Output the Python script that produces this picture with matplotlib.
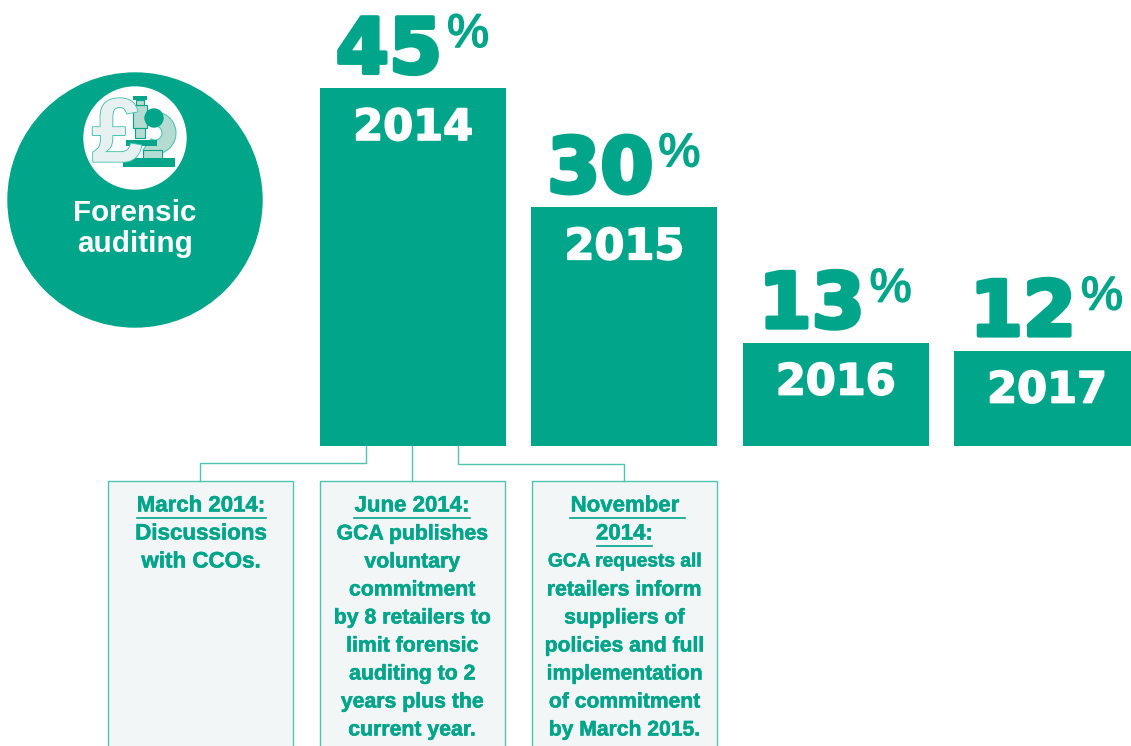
import matplotlib
matplotlib.use("Agg")
import matplotlib.pyplot as plt
import matplotlib.patheffects as pe
from matplotlib.patches import Circle, Rectangle, Wedge

# Data
years = ["2014", "2015", "2016", "2017"]
percent = [45, 30, 13, 12]
march_lines = ["Discussions", "with CCOs."]
june_lines = ["GCA publishes", "voluntary", "commitment", "by 8 retailers to", "limit forensic",
              "auditing to 2", "years plus the", "current year."]
nov_lines = ["GCA requests all", "retailers inform", "suppliers of", "policies and full",
             "implementation", "of commitment", "by March 2015."]

GREEN = "#00a58a"
LINE = "#4fc4af"
BOX = "#f2f6f7"
PALE = "#b5dcd2"
plt.rcParams["font.family"] = ["Liberation Sans", "DejaVu Sans"]
plt.rcParams["font.weight"] = "bold"

W, H = 1131, 746
fig = plt.figure(figsize=(W / 100, H / 100), dpi=100)

# Bars: 446px baseline, about 7.956 px per percentage point
base_px = 446
px_per_pct = 7.956
step = 211.3
x0 = 413
bar_ax = fig.add_axes([0, (H - base_px) / H, 1, base_px / H])
bar_ax.set_xlim(-x0 / step, (W - x0) / step)
bar_ax.set_ylim(0, base_px / px_per_pct)
bar_ax.axis("off")
pos = list(range(len(years)))
bar_ax.bar(pos, percent, width=186 / step, color=GREEN)

for i, (yr, val) in enumerate(zip(years, percent)):
    # year label inside the bar, near the top
    bar_ax.annotate(yr, (i, val), xytext=(0, -52), textcoords="offset pixels", ha="center",
                    va="baseline", fontsize=31, color="white", family="DejaVu Sans",
                    path_effects=[pe.withStroke(linewidth=1.2, foreground="white")])
    bar_ax.annotate(str(val), (i, val), xytext=(-24, 15), textcoords="offset pixels", ha="center",
                    va="baseline", fontsize=55, color=GREEN, family="DejaVu Sans",
                    path_effects=[pe.withStroke(linewidth=3, foreground=GREEN)])
    bar_ax.annotate("%", (i, val), xytext=(55, 41), textcoords="offset pixels", ha="center",
                    va="baseline", fontsize=34, color=GREEN, fontweight="normal",
                    path_effects=[pe.withStroke(linewidth=1.2, foreground=GREEN)])

# Overlay in pixel coordinates for the badge and callouts
ax = fig.add_axes([0, 0, 1, 1], facecolor="none")
ax.set_xlim(0, W)
ax.set_ylim(H, 0)
ax.axis("off")

ax.add_patch(Circle((135, 200), 127, color=GREEN))
ax.add_patch(Circle((135, 138), 51, color="white"))
ax.text(135, 213, "Forensic", ha="center", va="center", fontsize=21.3, color="white")
ax.text(135, 244, "auditing", ha="center", va="center", fontsize=21.3, color="white")

# Icon: pound sign and microscope
ax.text(117, 138, "£", ha="center", va="center", fontsize=65, color="#e8f1f2",
        path_effects=[pe.withStroke(linewidth=1.6, foreground=LINE), pe.Normal()])
ax.add_patch(Wedge((155, 133), 21, -90, 125, width=14, facecolor=PALE, edgecolor=LINE, lw=0.8))
ax.add_patch(Rectangle((143, 150), 19, 11, facecolor=PALE, edgecolor=GREEN, lw=0.8))
ax.add_patch(Rectangle((123, 158), 52, 9, facecolor=GREEN))
ax.add_patch(Rectangle((126, 140), 31, 6, facecolor=GREEN))
ax.add_patch(Rectangle((133, 105), 14, 23, facecolor=PALE, edgecolor=GREEN, lw=0.8))
ax.add_patch(Rectangle((133, 96), 14, 4, facecolor=GREEN))
ax.add_patch(Rectangle((136, 100), 8, 5, facecolor=PALE, edgecolor=GREEN, lw=0.8))
ax.add_patch(Rectangle((135, 128), 10, 10, facecolor=PALE, edgecolor=GREEN, lw=0.8))
ax.add_patch(Circle((154, 118), 9, color=GREEN))

# Connectors
for xs, ys in [([365.5, 365.5, 200, 200], [446, 463, 463, 480.5]),
               ([412, 412], [446, 480.5]),
               ([458, 458, 624, 624], [446, 463.5, 463.5, 480.5])]:
    ax.plot(xs, ys, color=LINE, lw=1, solid_joinstyle="miter")

# Boxes run off the bottom of the image
for left in [108, 320, 532]:
    ax.add_patch(Rectangle((left, 480.5), 184.5, 280, facecolor=BOX, edgecolor=LINE, lw=1))

stroke = [pe.withStroke(linewidth=0.4, foreground=GREEN)]


def head(x, y, s, x1, x2):
    ax.text(x, y, s, ha="center", va="center", fontsize=16, color=GREEN, path_effects=stroke)
    ax.plot([x1, x2], [y + 12, y + 12], color=GREEN, lw=1.2)


head(201, 506, "March 2014:", 137, 266)
for i, s in enumerate(march_lines):
    ax.text(201, 534 + 28 * i, s, ha="center", va="center", fontsize=16.1, color=GREEN, path_effects=stroke)

head(412, 506, "June 2014:", 354, 470)
for i, s in enumerate(june_lines):
    ax.text(412.5, 534 + 28 * i, s, ha="center", va="center", fontsize=15.3, color=GREEN, path_effects=stroke)

head(625, 506, "November", 570, 685)
head(624.5, 534, "2014:", 597, 652)
nov_sizes = [13.8, 15.3, 15.3, 15.2, 15.2, 15.2, 15.2]
for i, s in enumerate(nov_lines):
    ax.text(624.5, 562 + 28 * i, s, ha="center", va="center", fontsize=nov_sizes[i], color=GREEN, path_effects=stroke)

fig.savefig("out.png", dpi=100)
